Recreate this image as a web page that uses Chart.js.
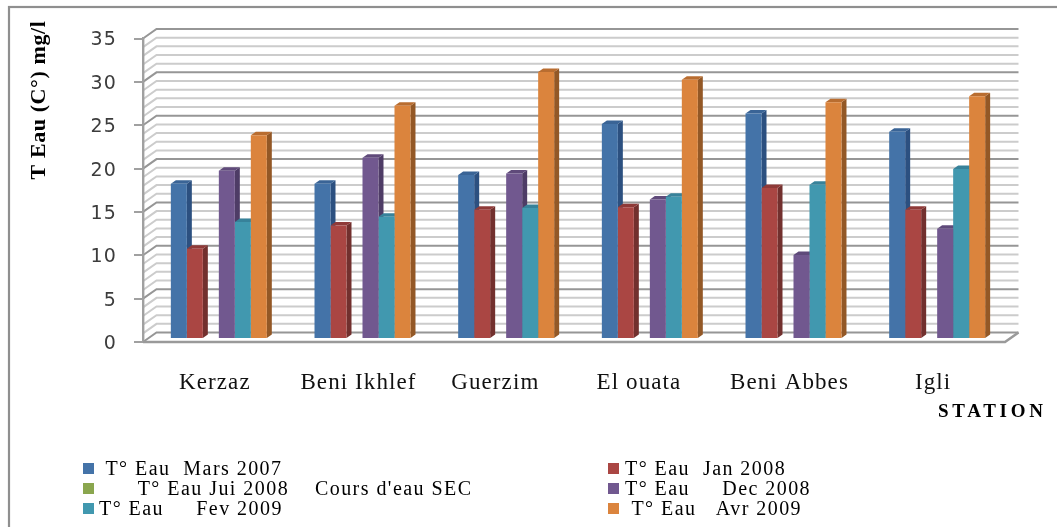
<!DOCTYPE html>
<html><head><meta charset="utf-8">
<style>html,body{margin:0;padding:0;background:#fff;overflow:hidden}canvas{display:block}</style>
<script src="https://cdn.jsdelivr.net/npm/chart.js@4/dist/chart.umd.min.js"></script>
</head><body><canvas id="c" width="1057" height="527"></canvas>
<script>
const categories = ["Kerzaz","Beni Ikhlef","Guerzim  ","El ouata  ","Beni Abbes","Igli"];
const mars2007 = [17.9,17.9,18.9,24.8,26.0,23.9];
const jan2008  = [10.4,13.1,14.9,15.2,17.4,14.9];
const jui2008  = [null,null,null,null,null,null];
const dec2008  = [19.4,20.9,19.1,16.1,9.7,12.7];
const fev2009  = [13.5,14.1,15.1,16.4,17.8,19.6];
const avr2009  = [23.5,26.9,30.8,29.9,27.3,28.0];
const seriesLabels = [" T\u00b0 Eau  Mars 2007","T\u00b0 Eau  Jan 2008","      T\u00b0 Eau Jui 2008    Cours d'eau SEC","T\u00b0 Eau     Dec 2008","T\u00b0 Eau     Fev 2009"," T\u00b0 Eau   Avr 2009"];
const seriesColors = ["#4473a8","#aa4643","#8aa64e","#71588f","#4198af","#db843d"];
const sideColors   = ["#2c5080","#72302e","#5f7534","#4e3c66","#2b6a7c","#935826"];
const topColors    = ["#3a6496","#8f3a38","#76903f","#5f4a7a","#37829a","#b96d30"];
const yTitle = "T Eau (C\u00b0) mg/l";
const xTitle = "STATION";
const SPACING = "1.1px";
const BACK = {dx:13.5, dy:-9.5}, BAR = {dx:4, dy:-3}, DEPTH = {dx:5, dy:-3.5};

const wall = {
  id:"wall",
  beforeDraw(chart){
    const {ctx, scales:{y}, chartArea:a} = chart;
    ctx.letterSpacing = SPACING;
    ctx.save();
    ctx.strokeStyle="#8f8f8f"; ctx.lineWidth=2.2;
    ctx.strokeRect(9,7,1200,700);
    for(let v=0;v<=35;v++){
      const p=y.getPixelForValue(v), major=v%5===0;
      ctx.strokeStyle=major?"#969696":"#cccccc"; ctx.lineWidth=2;
      ctx.beginPath();
      ctx.moveTo(a.left,p);
      ctx.lineTo(a.left+BACK.dx,p+BACK.dy);
      ctx.lineTo(a.right+BACK.dx,p+BACK.dy);
      ctx.stroke();
    }
    ctx.restore();
  },
  afterDraw(chart){
    const {ctx, scales:{y}, chartArea:a} = chart;
    const z=y.getPixelForValue(0);
    ctx.save();
    ctx.strokeStyle="#9a9a9a"; ctx.lineWidth=2.6;
    ctx.beginPath();
    ctx.moveTo(a.left,z); ctx.lineTo(a.right,z); ctx.lineTo(a.right+BACK.dx,z+BACK.dy);
    ctx.stroke();
    ctx.fillStyle="#000";
    ctx.textBaseline="alphabetic";
    ctx.font="bold 22px 'Liberation Serif'";
    ctx.letterSpacing="0.6px";
    ctx.save(); ctx.translate(45,100); ctx.rotate(-Math.PI/2); ctx.textAlign="center"; ctx.fillText(yTitle,0,0); ctx.restore();
    ctx.font="bold 19px 'Liberation Serif'";
    ctx.letterSpacing="3.7px";
    ctx.textAlign="left"; ctx.fillText(xTitle,938,417);
    ctx.letterSpacing="1.45px";
    ctx.font="20px 'Liberation Serif'";
    const cols=[[83,99],[608,625]], rows=[468,488,508];
    chart.data.datasets.forEach((d,i)=>{
      const c=cols[i%2], r=rows[Math.floor(i/2)];
      ctx.fillStyle=d.backgroundColor;
      ctx.fillRect(c[0],r-5,11,11);
      ctx.fillStyle="#000";
      ctx.fillText(d.label,c[1],r+7);
    });
    ctx.restore();
  },
  beforeDatasetsDraw(chart){
    const {ctx}=chart;
    ctx.save();
    ctx.translate(BAR.dx,BAR.dy);
    chart.data.datasets.forEach((d,i)=>{
      chart.getDatasetMeta(i).data.forEach((el,j)=>{
        if(d.data[j]==null) return;
        const {x,y,base,width}=el.getProps(["x","y","base","width"],true);
        const r=x+width/2,l=x-width/2;
        ctx.fillStyle=sideColors[i];
        ctx.beginPath();
        ctx.moveTo(r,y);ctx.lineTo(r+DEPTH.dx,y+DEPTH.dy);ctx.lineTo(r+DEPTH.dx,base+DEPTH.dy);ctx.lineTo(r,base);ctx.closePath();ctx.fill();
        ctx.fillStyle=topColors[i];
        ctx.beginPath();
        ctx.moveTo(l,y);ctx.lineTo(l+DEPTH.dx,y+DEPTH.dy);ctx.lineTo(r+DEPTH.dx,y+DEPTH.dy);ctx.lineTo(r,y);ctx.closePath();ctx.fill();
      });
    });
  },
  afterDatasetsDraw(chart){ chart.ctx.restore(); }
};

const series=[mars2007,jan2008,jui2008,dec2008,fev2009,avr2009];
new Chart(document.getElementById("c"),{
  type:"bar",
  data:{labels:categories,datasets:series.map((s,i)=>({label:seriesLabels[i],data:s,backgroundColor:seriesColors[i],clip:false,barPercentage:1,categoryPercentage:0.668}))},
  options:{
    responsive:false,animation:false,
    layout:{padding:{top:38.5,right:52,bottom:0,left:0}},
    plugins:{legend:{display:false},title:{display:false},tooltip:{enabled:false}},
    scales:{
      x:{grid:{display:false},border:{display:false},
        afterFit(s){s.height=185;},
        ticks:{color:"#111",maxRotation:0,autoSkip:false,padding:19,font:{family:"'Liberation Serif'",size:23}}},
      y:{min:0,max:35,afterFit(s){s.width=143;},
        border:{display:true,color:"#a0a0a0",width:2.4},
        grid:{drawOnChartArea:false,drawTicks:true,tickLength:9,color:"#a0a0a0",lineWidth:2},
        ticks:{stepSize:5,color:"#3c3c3c",padding:17,labelOffset:2,font:{family:"'DejaVu Sans'",size:19}}}
    }
  },
  plugins:[wall]
});
</script></body></html>
